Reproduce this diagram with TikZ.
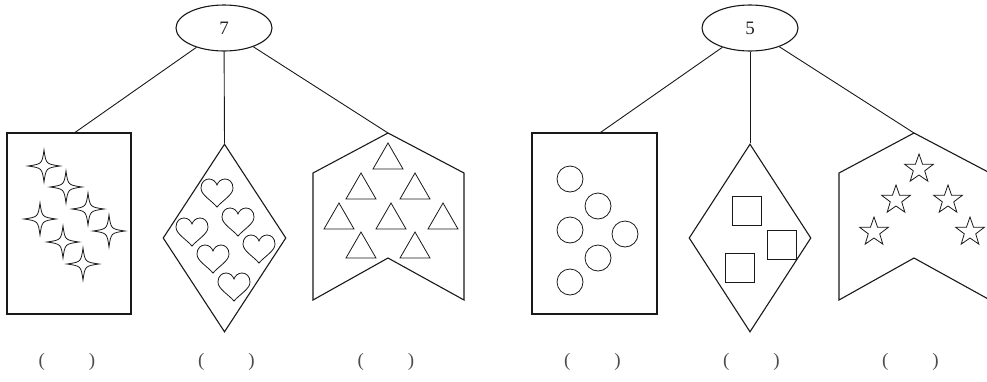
\documentclass[tikz,border=0pt]{standalone}
\usepackage{fontspec}
\setmainfont{Liberation Serif}
\usetikzlibrary{shapes.geometric,calc}
\begin{document}
\begin{tikzpicture}[x=1pt,y=-1pt,
  outl/.style={draw=black!90, line width=1.1pt, line join=miter},
  innerline/.style={draw=black!90, line width=0.8pt},
  conn/.style={draw=black!90, line width=0.9pt},
  topnode/.style={ellipse, outl, minimum width=96pt, minimum height=46pt, inner sep=0pt, font=\fontsize{19}{19}\selectfont, text=black!85},
  boxnode/.style={rectangle, outl, minimum width=124pt, minimum height=181pt, inner sep=0pt},
  diamnode/.style={diamond, outl, minimum width=123pt, minimum height=188pt, inner sep=0pt},
  paren/.style={font=\fontsize{19}{19}\selectfont, text=black!70, inner sep=0pt},
  heart/.pic={\draw[innerline] (0,14) .. controls (-6,7) and (-16,2) .. (-16,-5) .. controls (-16,-11) and (-12,-14) .. (-8,-14) .. controls (-4,-14) and (-1,-11) .. (0,-8) .. controls (1,-11) and (4,-14) .. (8,-14) .. controls (12,-14) and (16,-11) .. (16,-5) .. controls (16,2) and (6,7) .. (0,14) -- cycle;},
  sparkle/.pic={\draw[innerline] (0,-16) .. controls (2,-2) .. (16,0) .. controls (2,2) .. (0,16) .. controls (-2,2) .. (-16,0) .. controls (-2,-2) .. (0,-16) -- cycle;},
  tri/.pic={\draw[innerline] (0,0) -- (15,26) -- (-15,26) -- cycle;},
  starfive/.pic={\draw[innerline] (-90:15) -- (-54:6) -- (-18:15) -- (18:6) -- (54:15) -- (90:6) -- (126:15) -- (162:6) -- (198:15) -- (234:6) -- cycle;},
  sq/.pic={\draw[innerline] (0,0) rectangle (29,29);}
]
\useasboundingbox (0,0) rectangle (987,381);
\clip (0,0) rectangle (987,381);

% ---------- left group ----------
\node[topnode] (e1) at (224,28) {7};
\node[boxnode] (b1) at (69,223.5) {};
\node[diamnode] (d1) at (224.5,238) {};
\draw[outl] (388,133) coordinate (c1) -- (464,173) -- (464,300) -- (388,258) -- (313,300) -- (313,173) -- cycle;
\draw[conn] (e1) -- ([xshift=6pt]b1.north);
\draw[conn] (e1) -- (d1.north);
\draw[conn] (e1) -- (c1);

\foreach \x/\y in {44/166,66/187,88/209,40/219,109/231,63/242,83/264}
  \pic at (\x,\y) {sparkle};
\foreach \x/\y in {217/193,238/222,192/232,259/249,213/259,234/287}
  \pic at (\x,\y) {heart};
\foreach \x/\y in {388/143,361/173,415/173,339/203,391/203,443/203,361/232,415/232}
  \pic at (\x,\y) {tri};

\node[paren] (p1) at (67,362) {(\hspace{44pt})};
\node[paren] (p2) at (226.5,362) {(\hspace{44pt})};
\node[paren] (p3) at (386,362) {(\hspace{44pt})};

% ---------- right group ----------
\node[topnode] (e2) at (750,28) {5};
\node[boxnode, minimum width=125pt] (b2) at (594.5,223.5) {};
\node[diamnode, minimum width=122pt] (d2) at (750,238) {};
\draw[outl] (914,133) coordinate (c2) -- (990,173) -- (990,300) -- (914,258) -- (839,300) -- (839,173) -- cycle;
\draw[conn] (e2) -- ([xshift=6pt]b2.north);
\draw[conn] (e2) -- (d2.north);
\draw[conn] (e2) -- (c2);

\foreach \x/\y in {570/179,598/206,570/230,625/234,598/258,570/282}
  \draw[innerline] (\x,\y) circle (13);
\foreach \x/\y in {732/196,767/230,725/253}
  \pic at (\x,\y) {sq};
\foreach \x/\y in {919/169,896/200,948/200,874/232,970/232}
  \pic at (\x,\y) {starfive};

\node[paren] (p4) at (592.5,362) {(\hspace{44pt})};
\node[paren] (p5) at (751.5,362) {(\hspace{44pt})};
\node[paren] (p6) at (910.5,362) {(\hspace{44pt})};
\end{tikzpicture}
\end{document}
